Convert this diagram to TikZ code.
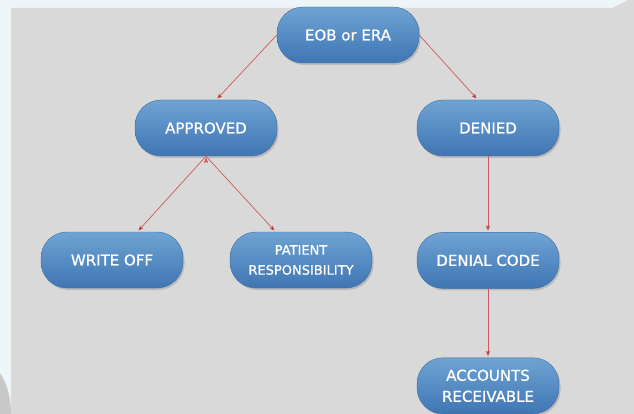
\documentclass[tikz,border=0pt]{standalone}
\usepackage{fontspec}
\setmainfont{DejaVu Sans}
\newfontfamily\stagefont{DejaVu Sans}[FakeBold=0.8]
\usepackage{tikz}
\usetikzlibrary{positioning,arrows,shadows}

\definecolor{boxtop}{HTML}{6FA3D3}
\definecolor{boxbot}{HTML}{3F76B3}
\definecolor{boxline}{HTML}{3A6CA3}
\definecolor{linkred}{HTML}{D05A5A}
\definecolor{panel}{HTML}{D9D9D9}
\definecolor{frame}{HTML}{EDF5F9}

\begin{document}
\begin{tikzpicture}[x=1pt,y=-1pt,>=stealth',
		stage/.style={rectangle, rounded corners=26pt, minimum width=142pt, minimum height=56pt,
			top color=boxtop, bottom color=boxbot, draw=boxline, line width=0.4pt,
			text=white, align=center, font=\stagefont\fontsize{15}{21}\selectfont,
			drop shadow={shadow xshift=1.5pt, shadow yshift=-2pt, opacity=0.35}},
		link/.style={->, draw=linkred, line width=0.7pt, shorten >=2pt},
	]
		% backdrop
		\fill[frame] (0,0) rectangle (634,414);
		\fill[panel] (11,8) -- (612,8) -- (628,0) -- (634,0) -- (634,414) -- (11,414) -- cycle;
		\fill[panel!92!black] (0,373) .. controls (8,385) and (11,400) .. (11,414) -- (0,414) -- cycle;

		\node[stage] (eob) at (348,35) {EOB or ERA};
		\node[stage] (approved) at (206,128) {APPROVED};
		\node[stage] (denied) at (488,128) {DENIED};
		\node[stage] (writeoff) at (112,260) {WRITE OFF};
		\node[stage, font=\stagefont\fontsize{13}{20}\selectfont] (patient) at (301,260) {PATIENT\\RESPONSIBILITY};
		\node[stage, below=76pt of denied] (denialcode) {DENIAL CODE};
		\node[stage, below=69pt of denialcode] (accounts) {ACCOUNTS\\RECEIVABLE};

		\path[link]
			(eob.west) edge (approved.70)
			(eob.east) edge (denied.110)
			(approved.south) edge (writeoff.48)
			(approved.south) edge (patient.132)
			(denied) edge (denialcode)
			(denialcode) edge (accounts)
		;
	\end{tikzpicture}
\end{document}
